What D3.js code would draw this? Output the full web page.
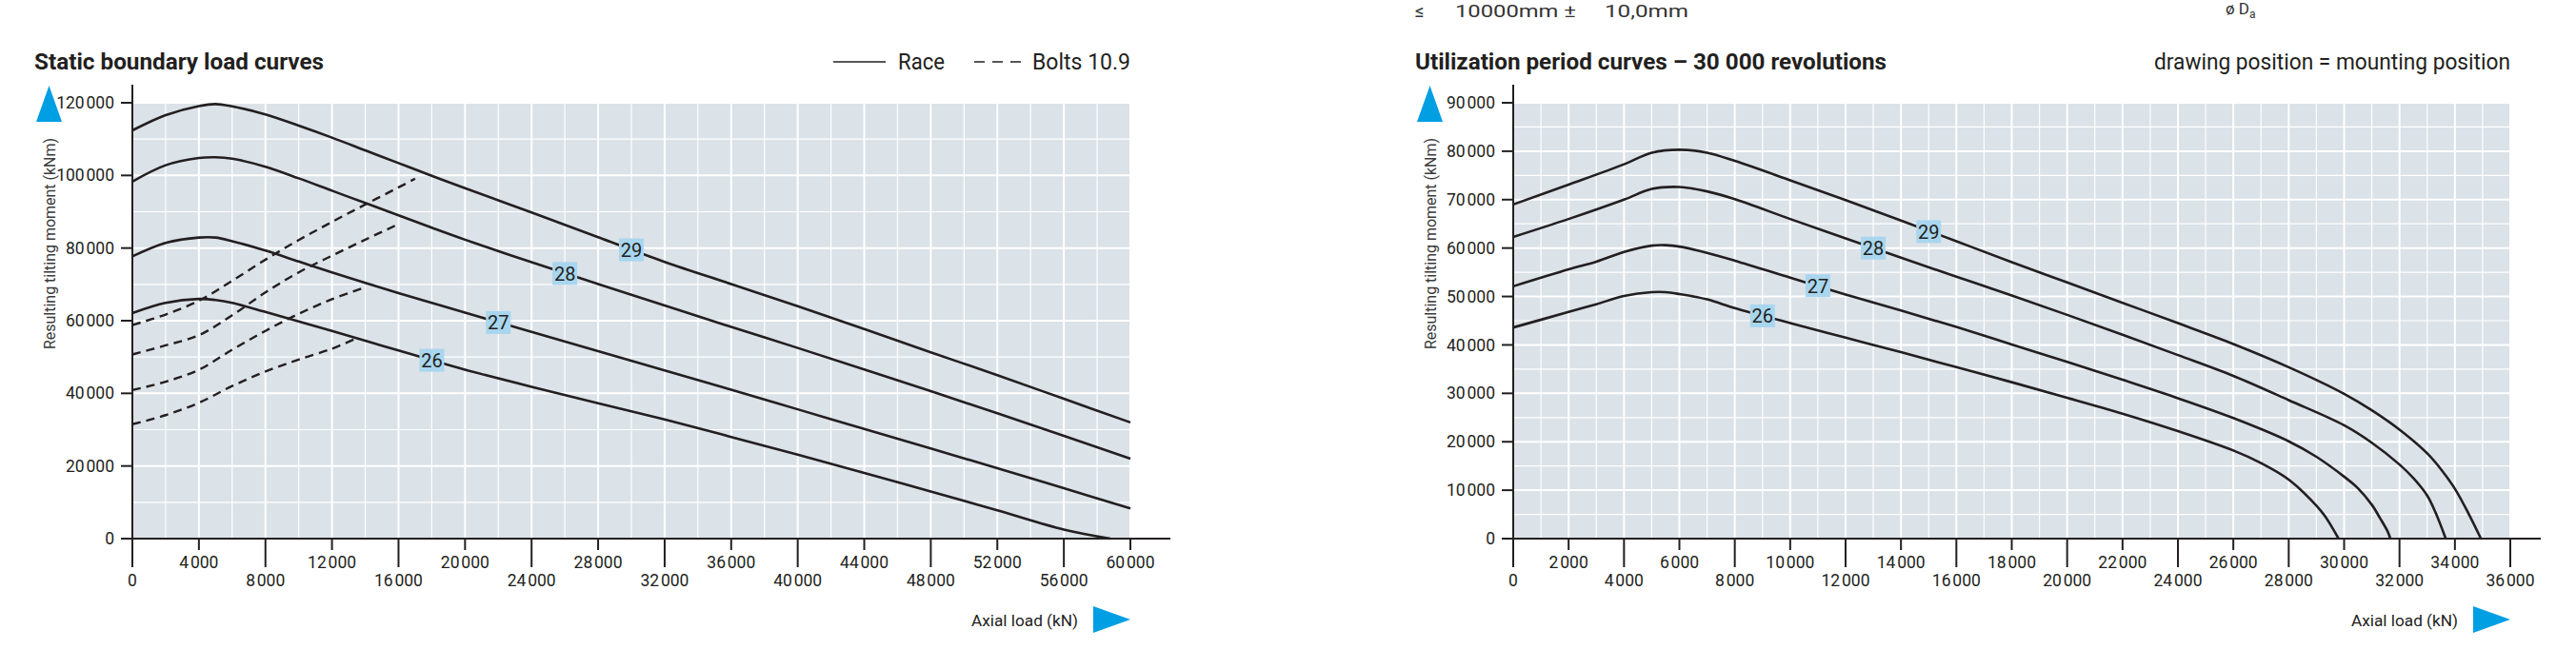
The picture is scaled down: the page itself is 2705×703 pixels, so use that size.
<!DOCTYPE html>
<html>
<head>
<meta charset="utf-8">
<script src="https://cdn.jsdelivr.net/npm/d3@7"></script>
<style>
  body { margin: 0; background: #fff; }
  text { font-family: Roboto, "Liberation Sans", sans-serif; fill: #231f20; }
</style>
</head>
<body>
<div id="chart"></div>
<script>
// static boundary load curves (left) - axial load kN vs tilting moment kNm
var staticXTicks = [0, 4000, 8000, 12000, 16000, 20000, 24000, 28000, 32000, 36000, 40000, 44000, 48000, 52000, 56000, 60000];
var staticYTicks = [0, 20000, 40000, 60000, 80000, 100000, 120000];

var race29 = [[0,112400],[2000,116600],[4000,119100],[5000,119650],[6000,119000],[8000,116800],[10000,113700],[12000,110400],[14000,106900],[16000,103400],[18000,99900],[20000,96500],[24000,89800],[28000,83000],[32000,76200],[36000,70100],[40000,64000],[44000,57700],[48000,51300],[52000,45000],[56000,38500],[60000,32000]];
var race28 = [[0,98300],[2000,102800],[4000,104800],[5000,105000],[6000,104600],[8000,102400],[10000,99200],[12000,95800],[14000,92400],[16000,89000],[18000,85600],[20000,82300],[24000,76100],[28000,70100],[32000,64200],[36000,58300],[40000,52500],[44000,46600],[48000,40600],[52000,34500],[56000,28300],[60000,22000]];
var race27 = [[0,77700],[2000,81400],[4000,82900],[5000,82900],[6000,81900],[8000,79300],[10000,76300],[12000,73300],[14000,70400],[16000,67600],[18000,64900],[20000,62200],[24000,56900],[28000,51600],[32000,46300],[36000,41000],[40000,35600],[44000,30200],[48000,24800],[52000,19400],[56000,13900],[60000,8300]];
var race26 = [[0,62100],[2000,64900],[4000,66000],[5000,65700],[6000,64900],[8000,62400],[10000,59800],[12000,57200],[14000,54500],[16000,51800],[18000,49100],[20000,46500],[24000,41800],[28000,37300],[32000,32800],[36000,28000],[40000,23100],[44000,18100],[48000,13000],[52000,7800],[56000,2500],[58800,0]];

var bolts29 = [[0,58800],[2000,61700],[4000,65500],[6000,71000],[8000,76800],[10000,82200],[12000,87200],[14000,92000],[16000,96700],[17000,99100]];
var bolts28 = [[0,50700],[2000,53200],[4000,56000],[6000,61500],[8000,67800],[10000,73300],[12000,77900],[14000,82300],[16000,86600]];
var bolts27 = [[0,40900],[2000,43200],[4000,46500],[6000,52000],[8000,57200],[10000,61900],[12000,65900],[14000,69200]];
var bolts26 = [[0,31500],[2000,34000],[4000,37400],[6000,42000],[8000,46000],[10000,49300],[12000,52300],[13300,54800]];

var staticSizes = ["29", "28", "27", "26"];
var staticLabelPos = [[30000,79500],[26000,73000],[22000,59500],[18000,49100]];

// utilization period curves (right) - 30 000 revolutions
var lifeXTicks = [0, 2000, 4000, 6000, 8000, 10000, 12000, 14000, 16000, 18000, 20000, 22000, 24000, 26000, 28000, 30000, 32000, 34000, 36000];
var lifeYTicks = [0, 10000, 20000, 30000, 40000, 50000, 60000, 70000, 80000, 90000];

var life29 = [[0,69000],[2000,73100],[4000,77300],[5000,79700],[6000,80300],[7000,79700],[8000,78000],[10000,74000],[12000,69900],[14000,65700],[16000,61400],[18000,57100],[20000,52900],[22000,48700],[24000,44500],[26000,40200],[28000,35400],[30000,29900],[31000,26500],[32000,22500],[33000,17600],[33500,14300],[34000,10300],[34500,5100],[34940,0]];
var life28 = [[0,62300],[2000,66000],[4000,70000],[5000,72200],[6000,72600],[7000,71700],[8000,70100],[10000,66000],[12000,62000],[14000,58000],[16000,54100],[18000,50200],[20000,46200],[22000,42100],[24000,37900],[26000,33600],[28000,28600],[30000,23400],[31000,19800],[32000,15300],[32500,12500],[33000,8900],[33300,5400],[33670,0]];
var life27 = [[0,52100],[2000,55600],[3000,57200],[4000,59200],[5000,60500],[5500,60600],[6000,60300],[7000,59000],[8000,57400],[10000,53900],[12000,50400],[14000,47100],[16000,43700],[18000,40100],[20000,36500],[22000,32800],[24000,29000],[26000,24900],[28000,20100],[29000,16900],[30000,12800],[30500,10400],[31000,7000],[31300,4200],[31570,1500],[31670,0]];
var life26 = [[0,43600],[2000,46800],[3000,48400],[4000,50100],[5000,50900],[5500,50900],[6000,50500],[7000,49400],[8000,47600],[10000,44500],[12000,41500],[14000,38500],[16000,35400],[18000,32300],[20000,29100],[22000,25800],[24000,22200],[26000,18200],[27000,15600],[28000,12200],[29000,6800],[29300,4700],[29600,2000],[29800,0]];

var lifeSizes = ["29", "28", "27", "26"];
var lifeLabelPos = [[15000,63400],[13000,60000],[11000,52200],[9000,46000]];

var width = 2705, height = 703;
var plotTop = 108, plotBottom = 566;
var blue = "#009fe3";
var ink = "#231f20";

var svg = d3.select("#chart").append("svg")
    .attr("width", width)
    .attr("height", height)
    .style("display", "block");

// thousands with a hair gap, like the catalogue tick labels
function fmt(v) {
    var s = String(v);
    if (s.length > 3) s = s.slice(0, s.length - 3) + "\u200a" + s.slice(s.length - 3);
    return s;
}

function drawChart(c) {
    var x = d3.scaleLinear().domain([0, c.xMax]).range([c.left, c.right]);
    var y = d3.scaleLinear().domain([0, c.yMax]).range([plotBottom, plotTop]);
    var g = svg.append("g");

    g.append("rect")
        .attr("x", x(0)).attr("y", y(c.yMax))
        .attr("width", x(c.xMax) - x(0)).attr("height", y(0) - y(c.yMax))
        .attr("fill", "#dbe2e8");

    // minor then major grid
    var xMinor = d3.range(c.xGrid, c.xMax, c.xGrid).filter(function(d){ return d % c.xStep != 0; });
    var yMinor = d3.range(c.yGrid, c.yMax, c.yGrid).filter(function(d){ return d % c.yStep != 0; });
    g.selectAll(".vminor").data(xMinor).enter().append("line")
        .attr("x1", x).attr("x2", x).attr("y1", y(0)).attr("y2", y(c.yMax))
        .attr("stroke", "#fff").attr("stroke-width", 1.2);
    g.selectAll(".hminor").data(yMinor).enter().append("line")
        .attr("x1", x(0)).attr("x2", x(c.xMax)).attr("y1", y).attr("y2", y)
        .attr("stroke", "#fff").attr("stroke-width", 1.2);
    g.selectAll(".vmajor").data(c.xTicks.slice(1)).enter().append("line")
        .attr("x1", x).attr("x2", x).attr("y1", y(0)).attr("y2", y(c.yMax))
        .attr("stroke", "#fff").attr("stroke-width", 2);
    g.selectAll(".hmajor").data(c.yTicks.slice(1)).enter().append("line")
        .attr("x1", x(0)).attr("x2", x(c.xMax)).attr("y1", y).attr("y2", y)
        .attr("stroke", "#fff").attr("stroke-width", 2);

    var line = d3.line()
        .x(function(d){ return x(d[0]); })
        .y(function(d){ return y(d[1]); })
        .curve(d3.curveCatmullRom.alpha(0.5));

    c.dashed.forEach(function(s) {
        g.append("path").attr("d", line(s))
            .attr("fill", "none").attr("stroke", ink)
            .attr("stroke-width", 2.4).attr("stroke-dasharray", "9,6");
    });
    c.solid.forEach(function(s) {
        g.append("path").attr("d", line(s))
            .attr("fill", "none").attr("stroke", ink).attr("stroke-width", 2.6);
    });

    // size labels sitting on the curves
    var lab = g.selectAll(".lab").data(c.labels).enter().append("g")
        .attr("transform", function(d, i){ return "translate(" + x(c.labelPos[i][0]) + "," + y(c.labelPos[i][1]) + ")"; });
    lab.append("rect").attr("x", -13).attr("y", -12).attr("width", 26).attr("height", 24)
        .attr("fill", "#a9d6ef");
    lab.append("text").attr("text-anchor", "middle").attr("dy", "0.36em")
        .attr("font-size", 20).text(function(d){ return d; });

    // axes
    g.append("line").attr("x1", x(0)).attr("x2", x(0)).attr("y1", 89).attr("y2", y(0))
        .attr("stroke", ink).attr("stroke-width", 2);
    g.append("line").attr("x1", x(0) - 1).attr("x2", x(c.xMax) + c.ext).attr("y1", y(0)).attr("y2", y(0))
        .attr("stroke", ink).attr("stroke-width", 2);

    g.selectAll(".ytick").data(c.yTicks).enter().append("line")
        .attr("x1", x(0) - 12).attr("x2", x(0)).attr("y1", y).attr("y2", y)
        .attr("stroke", ink).attr("stroke-width", 2);
    g.selectAll(".ylab").data(c.yTicks).enter().append("text")
        .attr("x", x(0) - 19).attr("y", y).attr("dy", "0.35em")
        .attr("text-anchor", "end").attr("font-size", 17.5)
        .text(fmt);

    g.selectAll(".xtick").data(c.xTicks).enter().append("line")
        .attr("x1", x).attr("x2", x).attr("y1", y(0))
        .attr("y2", function(d, i){ return y(0) + (i % 2 ? 12 : 30); })
        .attr("stroke", ink).attr("stroke-width", 2);
    g.selectAll(".xlab").data(c.xTicks).enter().append("text")
        .attr("x", x)
        .attr("y", function(d, i){ return y(0) + (i % 2 ? 31 : 50); })
        .attr("text-anchor", "middle").attr("font-size", 17.5)
        .text(fmt);

    // arrows + axis titles
    var ox = x(0);
    g.append("path").attr("d", "M" + (ox - 101) + ",128 L" + (ox - 87.5) + ",90 L" + (ox - 74) + ",128 Z")
        .attr("fill", blue);
    var rx = x(c.xMax);
    g.append("path").attr("d", "M" + (rx - 39) + ",637 L" + rx + ",651 L" + (rx - 39) + ",665 Z")
        .attr("fill", blue);
    g.append("text").attr("x", rx - 55).attr("y", 658).attr("text-anchor", "end")
        .attr("font-size", 17).attr("textLength", 112).attr("lengthAdjust", "spacingAndGlyphs")
        .text("Axial load (kN)");
    g.append("text").attr("transform", "translate(" + (ox - 81) + ",145) rotate(-90)")
        .attr("text-anchor", "end").attr("font-size", 16)
        .attr("textLength", 222).attr("lengthAdjust", "spacingAndGlyphs")
        .style("fill", "#3a3a3a")
        .text("Resulting tilting moment (kNm)");

    // heading
    g.append("text").attr("x", c.titleX).attr("y", 73)
        .attr("font-size", 24).attr("font-weight", "bold")
        .attr("textLength", c.titleLen).attr("lengthAdjust", "spacingAndGlyphs")
        .text(c.title);
    return g;
}

var left = drawChart({
    left: 139, right: 1187, xMax: 60000, yMax: 120000,
    xStep: 4000, yStep: 20000, xGrid: 2000, yGrid: 10000, ext: 42,
    xTicks: staticXTicks, yTicks: staticYTicks,
    solid: [race29, race28, race27, race26],
    dashed: [bolts29, bolts28, bolts27, bolts26],
    labels: staticSizes, labelPos: staticLabelPos,
    title: "Static boundary load curves", titleX: 36, titleLen: 304
});

var right = drawChart({
    left: 1589, right: 2636, xMax: 36000, yMax: 90000,
    xStep: 2000, yStep: 10000, xGrid: 1000, yGrid: 5000, ext: 32,
    xTicks: lifeXTicks, yTicks: lifeYTicks,
    solid: [life29, life28, life27, life26],
    dashed: [],
    labels: lifeSizes, labelPos: lifeLabelPos,
    title: "Utilization period curves \u2013 30\u00a0000 revolutions", titleX: 1486, titleLen: 495
});

// legend of the left chart
left.append("line").attr("x1", 875).attr("x2", 930).attr("y1", 65).attr("y2", 65)
    .attr("stroke", ink).attr("stroke-width", 1.5);
left.append("text").attr("x", 943).attr("y", 73).attr("font-size", 24)
    .attr("textLength", 49).attr("lengthAdjust", "spacingAndGlyphs").text("Race");
left.append("line").attr("x1", 1023).attr("x2", 1072).attr("y1", 65).attr("y2", 65)
    .attr("stroke", ink).attr("stroke-width", 1.5).attr("stroke-dasharray", "11,8");
left.append("text").attr("x", 1084).attr("y", 73).attr("font-size", 24)
    .attr("textLength", 103).attr("lengthAdjust", "spacingAndGlyphs").text("Bolts 10.9");

right.append("text").attr("x", 2636).attr("y", 73).attr("text-anchor", "end").attr("font-size", 24)
    .attr("textLength", 374).attr("lengthAdjust", "spacingAndGlyphs")
    .text("drawing position = mounting position");

// tolerance line left over from the drawing above
svg.append("text").attr("x", 1486).attr("y", 18).attr("font-size", 19)
    .style("fill", "#333").text("\u2264");
svg.append("text").attr("x", 1528).attr("y", 18).attr("font-size", 19)
    .attr("textLength", 127).attr("lengthAdjust", "spacingAndGlyphs")
    .style("fill", "#333").text("10000mm \u00b1");
svg.append("text").attr("x", 1685).attr("y", 18).attr("font-size", 19)
    .attr("textLength", 88).attr("lengthAdjust", "spacingAndGlyphs")
    .style("fill", "#333").text("10,0mm");
svg.append("text").attr("x", 2337).attr("y", 15).attr("font-size", 17)
    .style("fill", "#333").html("\u00f8 D<tspan font-size='12' dy='4'>a</tspan>");
</script>
</body>
</html>
